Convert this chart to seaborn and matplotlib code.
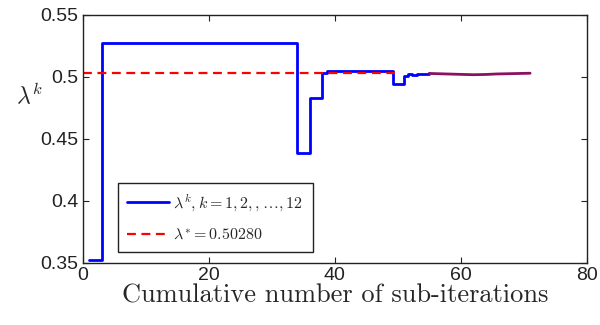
import numpy as np
import pandas as pd
import matplotlib
matplotlib.use("Agg")
import matplotlib.pyplot as plt
import seaborn as sns

# lambda^k sequence (step plot, value holds until next x)
blue_x = [1, 3, 34, 36, 38, 38.8, 49.3, 51, 51.6, 52.3, 53, 55]
blue_y = [0.352, 0.527, 0.439, 0.483, 0.5035, 0.5045, 0.4946, 0.5005,
          0.502, 0.5015, 0.5025, 0.5028]

# tail of the sequence drawn in purple
tail_x = [55, 60.5, 62, 64, 65.7, 71]
tail_y = [0.5028, 0.5020, 0.5018, 0.5020, 0.5024, 0.5030]

# converged value lambda*
star_x = [0, 49.5]
star_y = [0.5028, 0.5028]

x_ticks = [0, 20, 40, 60, 80]
y_ticks = [0.35, 0.4, 0.45, 0.5, 0.55]
y_ticklabels = ["0.35", "0.4", "0.45", "0.5", "0.55"]

sns.set_theme(style="ticks")
plt.rcParams.update({
    "font.family": ["Liberation Sans", "DejaVu Sans"],
    "mathtext.fontset": "cm",
    "figure.dpi": 100,
})

fig = plt.figure(figsize=(6, 3.25))
ax = fig.add_axes([0.138, 0.191, 0.840, 0.763])

blue = pd.DataFrame({"x": blue_x, "y": blue_y})
tail = pd.DataFrame({"x": tail_x, "y": tail_y})
star = pd.DataFrame({"x": star_x, "y": star_y})

sns.lineplot(data=blue, x="x", y="y", ax=ax, color="#0000ff", linewidth=2,
             drawstyle="steps-post", estimator=None, sort=False,
             label=r"$\lambda^k, k = 1, 2, , \ldots, 12$")
sns.lineplot(data=tail, x="x", y="y", ax=ax, color="#8c1060", linewidth=2,
             estimator=None, sort=False)
sns.lineplot(data=star, x="x", y="y", ax=ax, color="#ff0000", linewidth=1.6,
             linestyle=(0, (4, 2.5)), estimator=None, sort=False,
             label=r"$\lambda^{*} = 0.50280$")

ax.set_xlim(0, 80)
ax.set_ylim(0.35, 0.55)
ax.set_xticks(x_ticks)
ax.set_yticks(y_ticks)
ax.set_yticklabels(y_ticklabels)
ax.tick_params(direction="in", top=True, right=True, labelsize=14,
               length=4, width=0.8, pad=3, colors="#222222")
for s in ax.spines.values():
    s.set_linewidth(1.0)
    s.set_color("#222222")

ax.set_xlabel("Cumulative number of sub-iterations", fontsize=19,
              family="cmr10", labelpad=0)
ax.set_ylabel(r"$\lambda^k$", fontsize=17, rotation=0)
ax.yaxis.set_label_coords(-0.105, 0.62)

leg = ax.legend(loc="lower left", bbox_to_anchor=(0.069, 0.044),
                borderaxespad=0, fontsize=11.5, fancybox=False,
                edgecolor="#222222", framealpha=1, handlelength=2.6,
                labelspacing=0.9, handletextpad=0.3, borderpad=0.6)
leg.get_frame().set_linewidth(1.0)

fig.savefig("out.png", dpi=100)
